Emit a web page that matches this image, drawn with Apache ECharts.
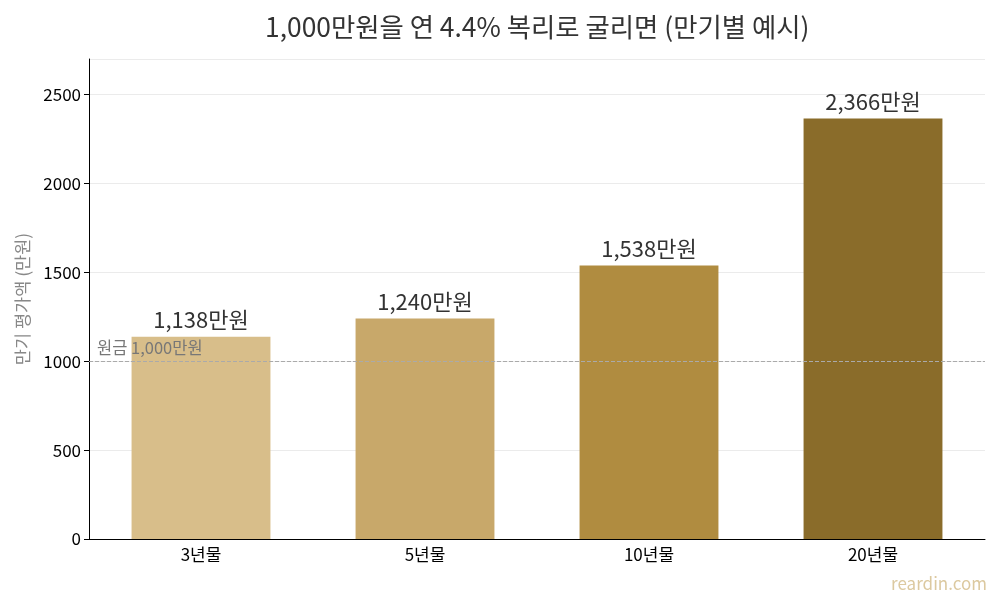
<!DOCTYPE html>
<html>
<head>
<meta charset="utf-8">
<script src="https://cdn.jsdelivr.net/npm/echarts@6/dist/echarts.min.js"></script>
<style>
  html, body { margin: 0; padding: 0; background: #fff; }
  #main { width: 1000px; height: 600px; }
</style>
</head>
<body>
<div id="main"></div>
<script>
var categories = ['3년물', '5년물', '10년물', '20년물'];
var values = [1138, 1240, 1538, 2366];
var barColors = ['#D8BE8A', '#C8A86A', '#B08C40', '#8A6C2A'];
var principal = 1000;

var fontFamily = '"Noto Sans CJK KR", "Noto Sans", sans-serif';

function fmt(v) {
    return v.toString().replace(/\B(?=(\d{3})+(?!\d))/g, ',');
}

var barData = [];
for (var i = 0; i < values.length; i++) {
    barData.push({ value: values[i], itemStyle: { color: barColors[i] } });
}

var myChart = echarts.init(document.getElementById('main'));
var option = {
    backgroundColor: '#fff',
    textStyle: { fontFamily: fontFamily },
    title: {
        // centred over the plot area, not the whole canvas
        text: '1,000만원을 연 4.4% 복리로 굴리면 (만기별 예시)',
        left: 260,
        top: 9,
        textStyle: { fontFamily: fontFamily, fontSize: 26.4, fontWeight: 'normal', color: '#333' }
    },
    grid: { left: 89, right: 15, top: 59, bottom: 61 },
    xAxis: {
        type: 'category',
        data: categories,
        axisLine: { lineStyle: { color: '#000' } },
        axisTick: { alignWithLabel: true, lineStyle: { color: '#000' } },
        axisLabel: { color: '#000', fontSize: 17, fontFamily: fontFamily, margin: 7 }
    },
    yAxis: {
        type: 'value',
        min: 0,
        max: 2700,
        interval: 500,
        name: '만기 평가액 (만원)',
        nameLocation: 'middle',
        nameGap: 58,
        nameTextStyle: { color: '#888', fontSize: 17.5, fontFamily: fontFamily },
        axisLine: { show: true, lineStyle: { color: '#000' } },
        axisTick: { show: true, lineStyle: { color: '#000' } },
        axisLabel: {
            color: '#000', fontSize: 17, fontFamily: fontFamily, showMaxLabel: false,
            formatter: function (v) { return String(v); }
        },
        splitLine: { lineStyle: { color: '#ebebeb' } }
    },
    series: [{
        type: 'bar',
        data: barData,
        barWidth: '62%',
        label: {
            show: true,
            position: 'top',
            distance: 6,
            fontSize: 22,
            color: '#333',
            fontFamily: fontFamily,
            formatter: function (p) { return fmt(p.value) + '만원'; }
        },
        markLine: {
            silent: true,
            symbol: 'none',
            z: 10,
            lineStyle: { color: '#aaa', type: 'dashed', width: 1 },
            label: {
                position: 'insideStartTop',
                formatter: '원금 1,000만원',
                color: '#777',
                fontSize: 16.5,
                fontFamily: fontFamily,
                distance: [8, 5]
            },
            data: [{ yAxis: principal }]
        }
    }],
    graphic: [{
        type: 'text',
        right: 13,
        bottom: 8,
        style: { text: 'reardin.com', fill: '#DCC9A0', fontSize: 17, fontFamily: fontFamily }
    }]
};
myChart.setOption(option);
</script>
</body>
</html>
